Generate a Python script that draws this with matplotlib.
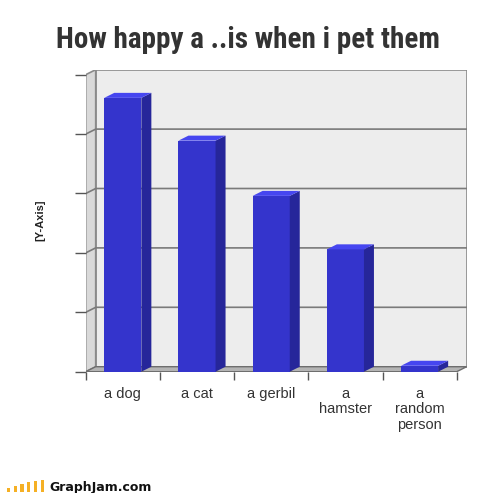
import matplotlib.pyplot as plt
from matplotlib import font_manager
from matplotlib.patches import Polygon, Rectangle

animals = ["a dog", "a cat", "a gerbil", "a\nhamster", "a\nrandom\nperson"]
happiness = [4.61, 3.89, 2.96, 2.06, 0.10]
ymax = 5

W, H = 500, 493
# front plane in pixels, plus the depth shift of the back wall
fx0, fx1, fy0, fy1 = 85.7, 456.7, 371.7, 74.7
dxp, dyp = 10, 5
n = len(animals)
DX = n * dxp / (fx1 - fx0)
DY = ymax * dyp / (fy0 - fy1)

FRONT = "#3434cc"
SIDE = "#26269a"
TOP = "#4646f0"

# pick a narrow heavy face for the title if one is around
names = {f.name for f in font_manager.fontManager.ttflist}
title_kw = dict(family="DejaVu Sans", fontsize=15.5, fontweight="heavy")
for cand in ["Liberation Sans Narrow", "DejaVu Sans Condensed", "Roboto Condensed"]:
    if cand in names:
        title_kw = dict(family=cand, fontsize=21, fontweight="black")
        break

fig = plt.figure(figsize=(W / 100, H / 100), dpi=100)
ax = fig.add_axes([fx0 / W, (H - fy0) / H,
                   (fx1 + dxp - fx0) / W, (fy0 - fy1 + dyp) / H])
ax.set_xlim(0, n + DX)
ax.set_ylim(0, ymax + DY)
for s in ax.spines.values():
    s.set_visible(False)
ax.patch.set_visible(False)

# walls and floor
ax.add_patch(Rectangle((DX, DY), n, ymax, fc="#ededed", ec="#8a8a8a", lw=1.2, zorder=0))
ax.add_patch(Polygon([(0, 0), (DX, DY), (DX, ymax + DY), (0, ymax)],
                     fc="#d9d9d9", ec="#8a8a8a", lw=1.2, zorder=0))
for k in range(1, ymax):
    ax.plot([0, DX, n + DX], [k, k + DY, k + DY], color="#7a7a7a", lw=1.2, zorder=1)
ax.add_patch(Polygon([(0, 0), (n, 0), (n + DX, DY), (DX, DY)],
                     fc="#b4b4b4", ec="#6e6e6e", lw=1.0, zorder=2))

# 3d bars
for i, v in enumerate(happiness):
    x0 = i + 0.25
    x1 = x0 + 0.5
    ax.add_patch(Rectangle((x0, 0), 0.5, v, fc=FRONT, ec="none", zorder=3))
    ax.add_patch(Polygon([(x1, 0), (x1 + DX, DY), (x1 + DX, v + DY), (x1, v)],
                         fc=SIDE, ec="none", zorder=3))
    ax.add_patch(Polygon([(x0, v), (x1, v), (x1 + DX, v + DY), (x0 + DX, v + DY)],
                         fc=TOP, ec="none", zorder=3))

ax.set_yticks(range(ymax + 1))
ax.set_yticklabels([])
ax.tick_params(axis="y", length=8, width=1, color="#555555", direction="out")
ax.set_xticks([i + 0.5 for i in range(n)])
ax.set_xticklabels(animals, fontsize=10.5, color="#333333", linespacing=1.12,
                   family="Liberation Sans")
ax.set_xticks(range(n + 1), minor=True)
ax.tick_params(axis="x", which="major", length=0, pad=11)
ax.tick_params(axis="x", which="minor", length=6, width=1, color="#555555")

fig.text(40 / W, 1 - 220 / H, "[Y-Axis]", rotation=90, ha="center", va="center",
         fontsize=8, fontweight="bold", color="#222222", family="Liberation Sans")
fig.text(248 / W, 1 - 40 / H, "How happy a ..is when i pet them", ha="center",
         va="center", color="#333333", **title_kw)

# graphjam logo
for j, h in enumerate([4, 6, 8, 10, 11, 12]):
    fig.patches.append(Rectangle(((7 + 6.7 * j) / W, 1 - 492 / H), 3.2 / W, h / H,
                                 fc="#f5b025", ec="none", transform=fig.transFigure))
fig.text(49 / W, 1 - 487 / H, "GraphJam.com", ha="left", va="center", fontsize=9,
         fontweight="bold", color="#111111", family="DejaVu Sans")

fig.savefig("out.png", dpi=100)
